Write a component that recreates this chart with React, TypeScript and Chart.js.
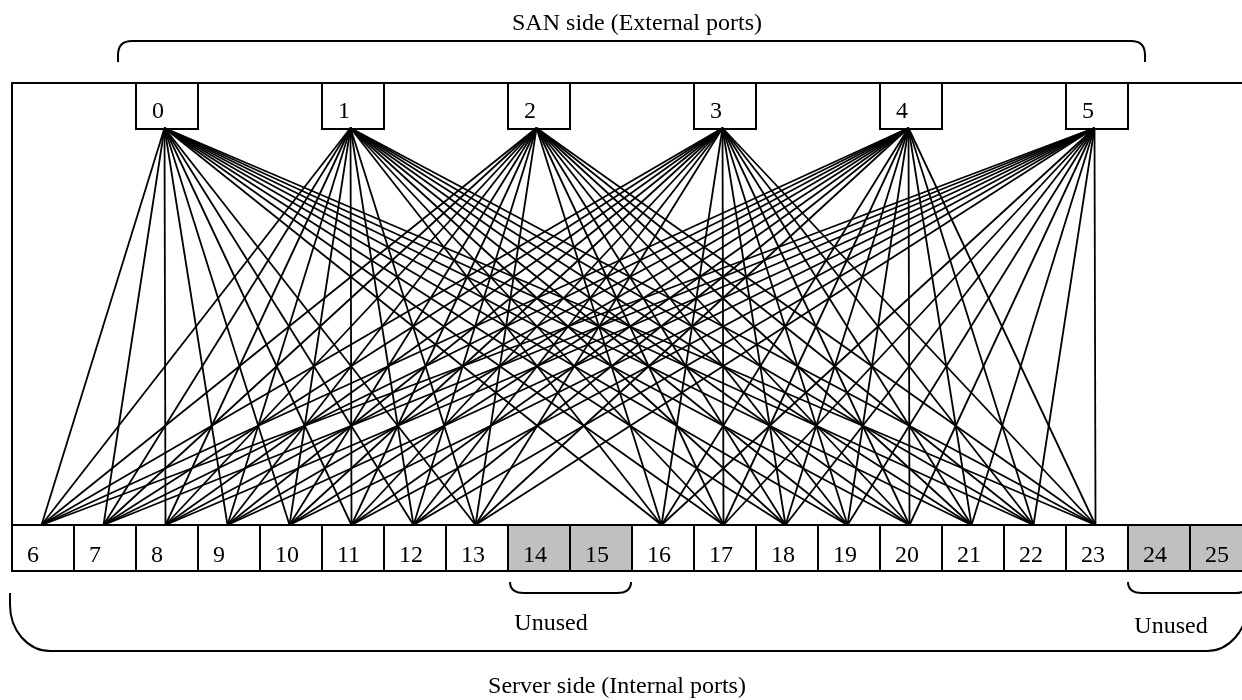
import React, { useEffect, useRef } from "react";
import { Chart, registerables } from "chart.js";

Chart.register(...registerables);

// ---- data ----
const externalPorts = [0, 1, 2, 3, 4, 5];
const internalPorts = [6, 7, 8, 9, 10, 11, 12, 13, 14, 15, 16, 17, 18, 19, 20, 21, 22, 23, 24, 25];
const unusedPorts = [14, 15, 24, 25];
const topCaption = "SAN side (External ports)";
const bottomCaption = "Server side (Internal ports)";
const unusedCaption = "Unused";

// every external port is wired to every used internal port
const usedInternalPorts = internalPorts.filter((p) => !unusedPorts.includes(p));
const links = externalPorts.flatMap((e) => usedInternalPorts.map((i) => [e, i]));

// ---- layout (in scale units) ----
const ORIGIN_X = 12;
const SLOT = 62;
const TOP_Y0 = 83;
const TOP_Y1 = 129;
const BOT_Y0 = 525;
const BOT_Y1 = 571;
const slotLeft = (slot: number) => ORIGIN_X + SLOT * slot;
const extSlot = (p: number) => 2 + 3 * p;
const intSlot = (p: number) => p - 6;
const anchorX = (slot: number) => slotLeft(slot) + 29.5;

const FONT = '24px "Liberation Serif", "Times New Roman", serif';

const diagramPlugin = {
  id: "diagram",
  beforeDatasetsDraw(chart: any) {
    const { ctx } = chart;
    const xs = chart.scales.x;
    const ys = chart.scales.y;
    const X = (v: number) => xs.getPixelForValue(v);
    const Y = (v: number) => ys.getPixelForValue(v);
    ctx.save();
    ctx.strokeStyle = "#000";
    ctx.lineWidth = 2;
    ctx.lineJoin = "miter";

    // outer frame (left and top edges)
    ctx.beginPath();
    ctx.moveTo(X(12), Y(BOT_Y0));
    ctx.lineTo(X(12), Y(TOP_Y0));
    ctx.lineTo(X(1242), Y(TOP_Y0));
    ctx.stroke();

    ctx.font = FONT;
    ctx.textAlign = "left";
    ctx.textBaseline = "alphabetic";

    // external port boxes
    externalPorts.forEach((p) => {
      const l = X(slotLeft(extSlot(p)));
      const r = X(slotLeft(extSlot(p) + 1));
      const t = Y(TOP_Y0);
      const b = Y(TOP_Y1);
      ctx.fillStyle = "#fff";
      ctx.fillRect(l, t, r - l, b - t);
      ctx.strokeRect(l, t, r - l, b - t);
      ctx.fillStyle = "#000";
      ctx.fillText(String(p), l + 16, Y(118));
    });

    // internal port boxes
    internalPorts.forEach((p) => {
      const l = X(slotLeft(intSlot(p)));
      const r = X(slotLeft(intSlot(p) + 1));
      const t = Y(BOT_Y0);
      const b = Y(BOT_Y1);
      ctx.fillStyle = unusedPorts.includes(p) ? "#c0c0c0" : "#fff";
      ctx.fillRect(l, t, r - l, b - t);
      ctx.strokeRect(l, t, r - l, b - t);
      ctx.fillStyle = "#000";
      ctx.fillText(String(p), l + 15, Y(562));
    });

    // top brace
    ctx.beginPath();
    ctx.moveTo(X(118), Y(62));
    ctx.lineTo(X(118), Y(55));
    ctx.quadraticCurveTo(X(118), Y(41), X(132), Y(41));
    ctx.lineTo(X(1131), Y(41));
    ctx.quadraticCurveTo(X(1145), Y(41), X(1145), Y(55));
    ctx.lineTo(X(1145), Y(62));
    ctx.stroke();

    // small braces under unused ports
    const smallBrace = (x0: number, x1: number) => {
      ctx.beginPath();
      ctx.moveTo(X(x0), Y(582));
      ctx.quadraticCurveTo(X(x0), Y(593), X(x0 + 14), Y(593));
      ctx.lineTo(X(x1 - 14), Y(593));
      ctx.quadraticCurveTo(X(x1), Y(593), X(x1), Y(582));
      ctx.stroke();
    };
    smallBrace(510, 631);
    smallBrace(1128, 1249);

    // big bottom brace
    ctx.beginPath();
    ctx.moveTo(X(10), Y(593));
    ctx.lineTo(X(10), Y(605));
    ctx.ellipse(X(50), Y(605), X(50) - X(10), Y(651) - Y(605), 0, Math.PI, Math.PI / 2, true);
    ctx.lineTo(X(1207), Y(651));
    ctx.ellipse(X(1207), Y(605), X(50) - X(10), Y(651) - Y(605), 0, Math.PI / 2, 0, true);
    ctx.lineTo(X(1247), Y(593));
    ctx.stroke();

    // captions
    ctx.textAlign = "center";
    ctx.fillStyle = "#000";
    ctx.fillText(topCaption, X(637), Y(30));
    ctx.fillText(bottomCaption, X(617), Y(693));
    ctx.fillText(unusedCaption, X(551), Y(630));
    ctx.fillText(unusedCaption, X(1171), Y(633));

    ctx.restore();
  },
};

export default function App() {
  const canvasRef = useRef<HTMLCanvasElement | null>(null);

  useEffect(() => {
    const canvas = canvasRef.current;
    if (!canvas) return;
    const datasets = links.map(([e, i]) => ({
      data: [
        { x: anchorX(extSlot(e)) - 1, y: TOP_Y1 - 1 },
        { x: anchorX(intSlot(i)), y: BOT_Y0 },
      ],
      showLine: true,
      borderColor: "#000",
      borderWidth: 1.8,
      pointRadius: 0,
      fill: false,
    }));
    const chart = new Chart(canvas, {
      type: "scatter",
      data: { datasets },
      options: {
        responsive: false,
        devicePixelRatio: 1,
        animation: false,
        events: [],
        layout: { padding: 0 },
        plugins: { legend: { display: false }, tooltip: { enabled: false } },
        scales: {
          x: { type: "linear", min: 0, max: 1242, display: false },
          y: { type: "linear", min: 0, max: 700, reverse: true, display: false },
        },
      },
      plugins: [diagramPlugin],
    });
    return () => chart.destroy();
  }, []);

  return (
    <div style={{ position: "fixed", left: 0, top: 0, width: 1242, height: 700, background: "#fff" }}>
      <canvas ref={canvasRef} width={1242} height={700} style={{ display: "block" }} />
    </div>
  );
}
